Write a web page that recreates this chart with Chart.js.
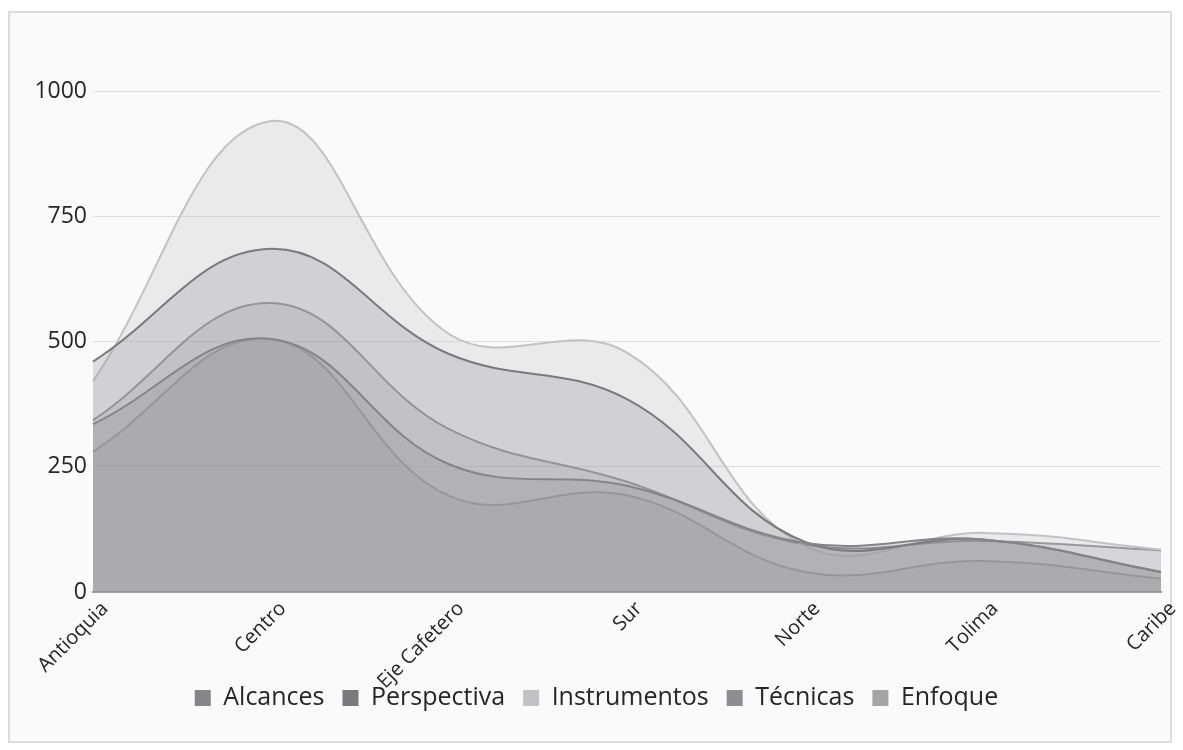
<!DOCTYPE html>
<html>
<head>
<meta charset="utf-8">
<script src="https://cdn.jsdelivr.net/npm/chart.js@4/dist/chart.umd.min.js"></script>
<style>
  html, body { margin: 0; padding: 0; background: #ffffff; }
  #wrap { position: absolute; left: 0; top: 0; width: 1183px; height: 750px; }
</style>
</head>
<body>
<div id="wrap"><canvas id="chart" width="1183" height="750"></canvas></div>
<script>
// Regions on the category axis
const regiones = ['Antioquia', 'Centro', 'Eje Cafetero', 'Sur', 'Norte', 'Tolima', 'Caribe'];

// One array per series
const alcances     = [335, 505, 255, 212, 98, 105, 40];
const perspectiva  = [460, 685, 475, 385, 100, 105, 40];
const instrumentos = [421, 940, 515, 478, 92, 118, 85];
const tecnicas     = [343, 577, 325, 220, 95, 102, 83];
const enfoque      = [280, 505, 192, 193, 40, 62, 27];

// Value axis ticks
const yTicks = [0, 250, 500, 750, 1000];

const FONT = "'Open Sans', sans-serif";
const TEXT = '#262626';
const LEGEND_CENTER_Y = 694;

function serie(label, data, line, fill) {
  return {
    label: label,
    data: data,
    borderColor: line,
    backgroundColor: fill,
    borderWidth: 2,
    fill: 'origin',
    tension: 0.4,
    pointRadius: 0,
    pointHoverRadius: 0
  };
}

// Light panel with a thin frame behind the plot; legend row sits beside the slanted labels
const panel = {
  id: 'panel',
  beforeDraw(chart) {
    const ctx = chart.ctx;
    ctx.save();
    ctx.fillStyle = '#fafafa';
    ctx.fillRect(10, 13, 1160, 728);
    ctx.strokeStyle = '#dcdcdc';
    ctx.lineWidth = 2;
    ctx.strokeRect(9, 12, 1162, 730);
    ctx.restore();

    const lg = chart.legend;
    if (lg) {
      const h = lg.bottom - lg.top;
      lg.top = LEGEND_CENTER_Y - h / 2;
      lg.bottom = lg.top + h;
    }
  }
};

new Chart(document.getElementById('chart'), {
  type: 'line',
  data: {
    labels: regiones,
    datasets: [
      serie('Alcances', alcances, '#858589', 'rgba(130,131,135,0.25)'),
      serie('Perspectiva', perspectiva, '#7a7a7d', 'rgba(134,134,138,0.25)'),
      serie('Instrumentos', instrumentos, '#c2c2c5', 'rgba(186,186,191,0.25)'),
      serie('Técnicas', tecnicas, '#8e8e91', 'rgba(143,143,148,0.25)'),
      serie('Enfoque', enfoque, '#a4a4a8', 'rgba(162,162,167,0.25)')
    ]
  },
  options: {
    responsive: false,
    animation: false,
    devicePixelRatio: 1,
    layout: { padding: { left: 32, right: 22, top: 91, bottom: 0 } },
    plugins: {
      tooltip: { enabled: false },
      legend: {
        position: 'bottom',
        labels: {
          font: { family: FONT, size: 25 },
          color: TEXT,
          boxWidth: 16,
          boxHeight: 16,
          padding: 18,
          generateLabels(chart) {
            return chart.data.datasets.map((d, i) => ({
              text: d.label,
              fillStyle: d.borderColor,
              strokeStyle: d.borderColor,
              lineWidth: 0,
              hidden: false,
              datasetIndex: i,
              fontColor: TEXT
            }));
          }
        }
      }
    },
    scales: {
      x: {
        offset: false,
        grid: { display: false, drawTicks: false },
        border: { display: true, color: '#a0a0a3', width: 2 },
        ticks: {
          font: { family: FONT, size: 20 },
          color: TEXT,
          maxRotation: 45,
          minRotation: 45,
          padding: 5,
          labelOffset: 12
        },
        afterFit(scale) { scale.height = 105; }
      },
      y: {
        min: 0,
        max: 1000,
        grid: { color: '#dedede', lineWidth: 1, drawTicks: false },
        border: { display: false },
        ticks: {
          font: { family: FONT, size: 23 },
          color: TEXT,
          padding: 6,
          stepSize: 250,
          callback: (v) => yTicks.includes(v) ? String(v) : ''
        },
        afterFit(scale) { scale.width = 61; }
      }
    }
  },
  plugins: [panel]
});
</script>
</body>
</html>
